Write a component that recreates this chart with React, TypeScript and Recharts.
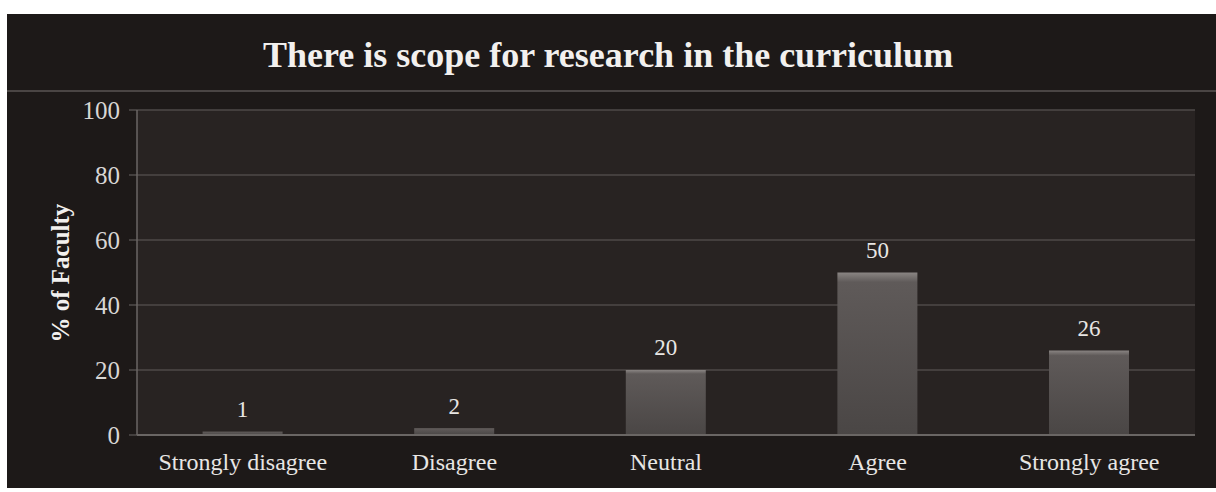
import React from "react";
import { BarChart, Bar, XAxis, YAxis, CartesianGrid, LabelList } from "recharts";

const categories = ["Strongly disagree", "Disagree", "Neutral", "Agree", "Strongly agree"];
const faculty = [1, 2, 20, 50, 26];
const yTicks = [0, 20, 40, 60, 80, 100];

const data = categories.map((name, i) => ({ name, value: faculty[i] }));

const FONT = "'Liberation Serif', 'DejaVu Serif', serif";

const App: React.FC = () => {
  return (
    <div style={{ position: "relative", width: 1216, height: 492, background: "#ffffff" }}>
      <style>{"body{margin:0}"}</style>
      {/* dark slide background */}
      <div
        style={{
          position: "absolute",
          left: 7,
          top: 14,
          width: 1209,
          height: 474,
          background: "#1d1918",
        }}
      />
      <div
        style={{
          position: "absolute",
          left: 7,
          top: 90,
          width: 1209,
          height: 2,
          background: "#4a4544",
        }}
      />
      <div
        style={{
          position: "absolute",
          left: 0,
          top: 34,
          width: 1216,
          textAlign: "center",
          fontFamily: FONT,
          fontWeight: "bold",
          fontSize: 36,
          color: "#f2f0ee",
        }}
      >
        There is scope for research in the curriculum
      </div>
      <div style={{ position: "absolute", left: 0, top: 0 }}>
        <BarChart
          width={1216}
          height={492}
          data={data}
          margin={{ top: 110, right: 21, bottom: 27, left: 77 }}
          barCategoryGap="31%"
        >
          <defs>
            <linearGradient id="barFill" x1="0" y1="0" x2="0" y2="1">
              <stop offset="0%" stopColor="#8a8583" />
              <stop offset="6%" stopColor="#5f5a59" />
              <stop offset="100%" stopColor="#4a4645" />
            </linearGradient>
          </defs>
          <CartesianGrid
            vertical={false}
            stroke="#4e4a48"
            strokeWidth={1.5}
            fill="#282322"
          />
          <XAxis
            dataKey="name"
            axisLine={{ stroke: "#6a6664", strokeWidth: 2 }}
            tickLine={false}
            tick={{ fill: "#e8e6e4", fontFamily: FONT, fontSize: 24 }}
            tickMargin={12}
            interval={0}
          />
          <YAxis
            domain={[0, 100]}
            ticks={yTicks}
            width={60}
            axisLine={{ stroke: "#6a6664", strokeWidth: 1.5 }}
            tickLine={{ stroke: "#6a6664" }}
            tickSize={8}
            tickMargin={9}
            tick={{ fill: "#d8d6d4", fontFamily: FONT, fontSize: 25 }}
            label={{
              value: "% of Faculty",
              angle: -90,
              position: "insideLeft",
              dx: -22,
              dy: 70,
              style: { fill: "#f2f0ee", fontFamily: FONT, fontWeight: "bold", fontSize: 25 },
            }}
          />
          <Bar dataKey="value" fill="url(#barFill)" isAnimationActive={false}>
            <LabelList
              dataKey="value"
              position="top"
              offset={15}
              style={{ fill: "#e8e6e4", fontFamily: FONT, fontSize: 23 }}
            />
          </Bar>
        </BarChart>
      </div>
    </div>
  );
};

export default App;
